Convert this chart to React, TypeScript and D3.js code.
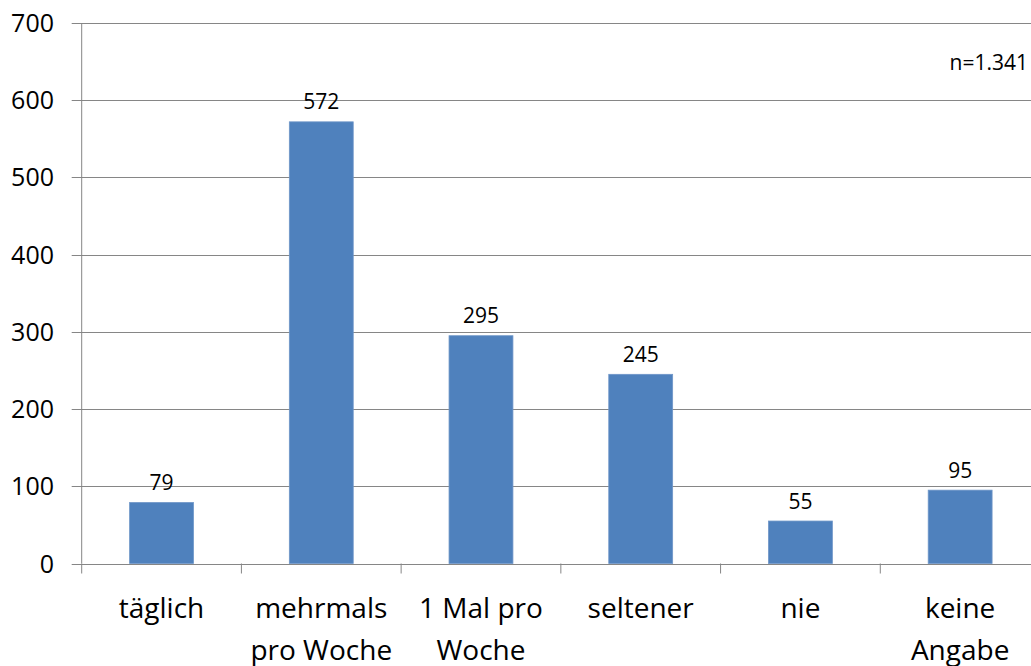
import React from "react";
import * as d3 from "d3";

const categories: string[][] = [
  ["täglich"],
  ["mehrmals", "pro Woche"],
  ["1 Mal pro", "Woche"],
  ["seltener"],
  ["nie"],
  ["keine", "Angabe"],
];
const values: number[] = [79, 572, 295, 245, 55, 95];
const yTicks: number[] = [0, 100, 200, 300, 400, 500, 600, 700];
const note = "n=1.341";

const W = 1031;
const H = 666;
const FONT = "'Open Sans', 'Noto Sans', sans-serif";

export default function App() {
  const left = 81.7;
  const right = 1040;
  const top = 23;
  const bottom = 563.5;
  const keys = categories.map((_, i) => String(i));
  const x = d3.scaleBand<string>().domain(keys).range([left, right]).paddingInner(0.6).paddingOuter(0.3);
  const y = d3.scaleLinear().domain([0, 700]).range([bottom, top]);
  const step = x.step();
  const grid = "#868686";

  return (
    <div style={{ position: "absolute", left: 0, top: 0 }}>
      <svg width={W} height={H} style={{ display: "block", background: "#fff" }}>
        {yTicks.map((t) => (
          <g key={t}>
            {t > 0 && (
              <line x1={left - 10} x2={W} y1={Math.round(y(t)) + 0.5} y2={Math.round(y(t)) + 0.5} stroke={grid} strokeWidth={1} />
            )}
            <text x={54} y={y(t) + 9} textAnchor="end" fontFamily={FONT} fontSize={25} fill="#000">
              {t}
            </text>
          </g>
        ))}
        <line x1={left} x2={left} y1={top} y2={bottom} stroke={grid} strokeWidth={1} />
        <line x1={left - 10} x2={W} y1={Math.round(bottom) + 0.5} y2={Math.round(bottom) + 0.5} stroke={grid} strokeWidth={1} />
        {keys.map((k, i) => (
          <line key={"tk" + k} x1={left + i * step} x2={left + i * step} y1={bottom} y2={bottom + 10} stroke={grid} strokeWidth={1} />
        ))}
        {values.map((v, i) => {
          const bx = x(String(i))!;
          return (
            <g key={"b" + i}>
              <rect x={bx} y={y(v)} width={x.bandwidth()} height={bottom - y(v)} fill="#4F81BD" stroke="#6f96c8" strokeWidth={0.8} />
              <text x={bx + x.bandwidth() / 2} y={y(v) - 12.5} textAnchor="middle" fontFamily={FONT} fontSize={21} fill="#000">
                {v}
              </text>
            </g>
          );
        })}
        {categories.map((lines, i) => {
          const cx = x(String(i))! + x.bandwidth() / 2;
          return (
            <text key={"c" + i} textAnchor="middle" fontFamily={FONT} fontSize={28} fill="#000">
              {lines.map((l, j) => (
                <tspan key={j} x={cx} y={618 + j * 42}>
                  {l}
                </tspan>
              ))}
            </text>
          );
        })}
        <text x={1028} y={70} textAnchor="end" fontFamily={FONT} fontSize={21} fill="#000">
          {note}
        </text>
      </svg>
    </div>
  );
}
